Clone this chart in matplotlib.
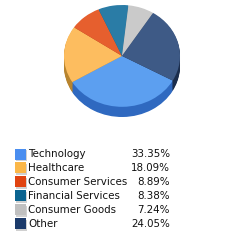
import matplotlib.pyplot as plt
import numpy as np

sectors = ['Technology', 'Healthcare', 'Consumer Services', 'Financial Services',
           'Consumer Goods', 'Other']
weights = [33.35, 18.09, 8.89, 8.38, 7.24, 24.05]
pct_labels = ['33.35%', '18.09%', '8.89%', '8.38%', '7.24%', '24.05%']

top_colors = ['#5c9ff0', '#fdbd5f', '#e65f2e', '#2a7ca6', '#cacaca', '#3e5a86']
side_colors = ['#2f69c0', '#b8842e', '#a8401a', '#1a5878', '#8a8a8a', '#1b2d4c']
swatch_colors = ['#4a8ef0', '#fbb748', '#e04310', '#0b6490', '#c0c0c0', '#1b3a6a']

fig = plt.figure(figsize=(2.45, 2.45), dpi=100)
fig.patch.set_facecolor('white')

ax = fig.add_axes([64 / 245, (245 - 117) / 245, 116 / 245, 112 / 245])
depth = 0.2
n_layers = 12
for i in range(n_layers, 0, -1):
    off = depth * i / n_layers
    ax.pie(weights, colors=side_colors, startangle=-29, counterclock=False,
           center=(0, -off), radius=1, wedgeprops=dict(linewidth=0))
ax.pie(weights, colors=top_colors, startangle=-29, counterclock=False,
       center=(0, 0), radius=1, wedgeprops=dict(linewidth=0))
ax.set_aspect('auto')
ax.set_xlim(-1, 1)
ax.set_ylim(-1 - depth, 1)
ax.axis('off')

# legend table
lax = fig.add_axes([0, 0, 1, 1])
lax.set_xlim(0, 245)
lax.set_ylim(245, 0)
lax.axis('off')
for i, (name, pct, col) in enumerate(zip(sectors, pct_labels, swatch_colors)):
    y = 154 + i * 13.9
    lax.add_patch(plt.Rectangle((16, y - 4), 11, 11, color='#d0d0d0', lw=0))
    lax.add_patch(plt.Rectangle((15, y - 5.5), 11, 11, color=col, lw=0))
    lax.text(28, y, name, fontsize=7.4, va='center', ha='left', color='#111111')
    lax.text(170, y, pct, fontsize=7.4, va='center', ha='right', color='#111111')

fig.savefig('out.png', dpi=100, facecolor='white')
